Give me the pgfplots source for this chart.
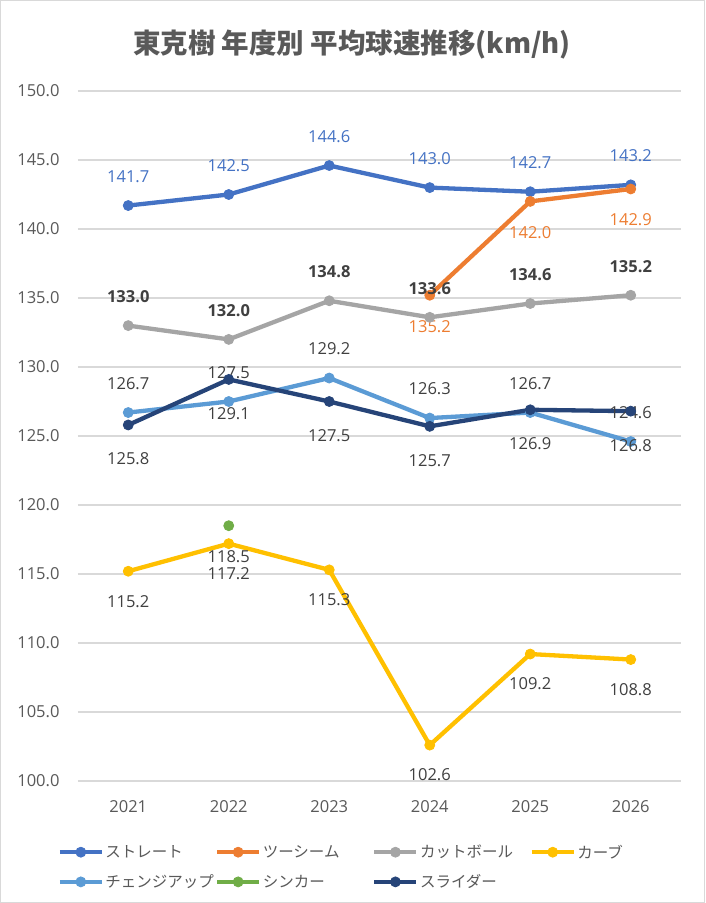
\documentclass[border=0pt]{standalone}
\usepackage{fontspec}
\setmainfont{Noto Sans CJK JP}
\newfontfamily\numfont{Open Sans}
\usepackage{pgfplots}
\pgfplotsset{compat=1.18}
\definecolor{cS}{HTML}{4472C4}
\definecolor{cT}{HTML}{ED7D31}
\definecolor{cC}{HTML}{A5A5A5}
\definecolor{cK}{HTML}{FFC000}
\definecolor{cCh}{HTML}{5B9BD5}
\definecolor{cSi}{HTML}{70AD47}
\definecolor{cSl}{HTML}{264478}
\definecolor{txt}{HTML}{595959}
\definecolor{lab}{HTML}{404040}
\definecolor{gridc}{HTML}{D9D9D9}
\newcommand{\lf}{\numfont\fontsize{16.5}{19}\selectfont}
\newcommand{\jf}{\fontsize{15.5}{18}\selectfont}
\begin{document}
\begin{tikzpicture}[x=1pt,y=1pt]
\useasboundingbox (-78,-122) rectangle (627,781);
\fill[white] (-78,-122) rectangle (627,781);
\draw[gridc, line width=1.5pt] (-77.25,-121.25) rectangle (626.25,780.25);
\begin{axis}[
  at={(0,0)}, anchor=south west,
  scale only axis, width=603pt, height=690pt,
  xmin=-0.5, xmax=5.5, ymin=100, ymax=150,
  xtick={0,1,2,3,4,5}, xticklabels={2021,2022,2023,2024,2025,2026},
  ytick={100,105,...,150},
  axis line style={draw=none},
  major tick length=0pt,
  ymajorgrids, grid style={gridc, line width=1.5pt},
  clip=false,
  /pgf/number format/assume math mode=true,
  tick label style={font=\lf, text=txt},
  yticklabel style={/pgf/number format/fixed, /pgf/number format/fixed zerofill, /pgf/number format/precision=1, xshift=-15pt},
  xticklabel style={yshift=-16pt},
  nodes near coords,
  point meta=y,
  nodes near coords style={font=\lf, anchor=center, /pgf/number format/fixed, /pgf/number format/fixed zerofill, /pgf/number format/precision=1},
  every axis plot/.append style={line width=4.3pt, mark=*, mark size=5pt, mark options={solid, line width=0.8pt}},
  legend style={at={(axis description cs:-0.034,-0.09)}, anchor=north west, draw=none, fill=none,
    font=\jf, text=txt, legend columns=4, row sep=12pt, inner sep=0pt,
    nodes={inner sep=1.5pt}},
  legend cell align=left,
  legend image code/.code={\draw[mark repeat=2,mark phase=2,#1] plot coordinates {(0pt,0pt)(21pt,0pt)(42pt,0pt)};},
]
\addplot[cS, nodes near coords style={text=cS, yshift=29pt}] coordinates {(0,141.7)(1,142.5)(2,144.6)(3,143.0)(4,142.7)(5,143.2)};
\addlegendentry{\makebox[108pt][l]{ストレート}}
\addplot[cT, nodes near coords style={text=cT, yshift=-31pt}] coordinates {(3,135.2)(4,142.0)(5,142.9)};
\addlegendentry{\makebox[108pt][l]{ツーシーム}}
\addplot[cC, nodes near coords style={text=lab, yshift=29pt, font=\lf\bfseries}] coordinates {(0,133.0)(1,132.0)(2,134.8)(3,133.6)(4,134.6)(5,135.2)};
\addlegendentry{\makebox[108pt][l]{カットボール}}
\addplot[cK, nodes near coords style={text=lab, yshift=-30pt}] coordinates {(0,115.2)(1,117.2)(2,115.3)(3,102.6)(4,109.2)(5,108.8)};
\addlegendentry{\makebox[108pt][l]{カーブ}}
\addplot[cCh, nodes near coords style={text=lab, yshift=29pt}] coordinates {(0,126.7)(1,127.5)(2,129.2)(3,126.3)(4,126.7)(5,124.6)};
\addlegendentry{\makebox[108pt][l]{チェンジアップ}}
\addplot[cSi, nodes near coords style={text=lab, yshift=-31pt}] coordinates {(1,118.5)};
\addlegendentry{\makebox[108pt][l]{シンカー}}
\addplot[cSl, nodes near coords style={text=lab, yshift=-34pt}] coordinates {(0,125.8)(1,129.1)(2,127.5)(3,125.7)(4,126.9)(5,126.8)};
\addlegendentry{\makebox[108pt][l]{スライダー}}
\end{axis}
\node[text=txt, font=\fontsize{27.5}{32}\selectfont\bfseries] at (274,736) {東克樹 年度別 平均球速推移(km/h)};
\end{tikzpicture}
\end{document}
